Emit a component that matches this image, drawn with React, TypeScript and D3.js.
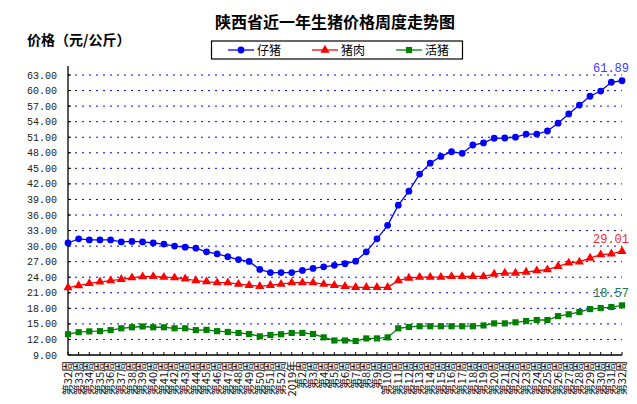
import React from "react";
import * as d3 from "d3";

const weekLabels: string[] = [
  "第32周","第33周","第34周","第35周","第36周","第37周","第38周","第39周","第40周","第41周",
  "第42周","第43周","第44周","第45周","第46周","第47周","第48周","第49周","第50周","第51周",
  "第52周","2019年","第2周","第3周","第4周","第5周","第6周","第7周","第8周","第9周",
  "第10周","第11周","第12周","第13周","第14周","第15周","第16周","第17周","第18周","第19周",
  "第20周","第21周","第22周","第23周","第24周","第25周","第26周","第27周","第28周","第29周",
  "第30周","第31周","第32周",
];

const piglet: number[] = [
  30.6, 31.4, 31.2, 31.2, 31.2, 30.8, 30.9, 30.8, 30.6, 30.4,
  30.0, 29.8, 29.6, 28.9, 28.5, 27.95, 27.4, 27.05, 25.5, 24.9,
  24.9, 24.9, 25.3, 25.7, 26.0, 26.3, 26.6, 27.1, 28.9, 31.4,
  34.0, 37.9, 40.6, 43.9, 46.0, 47.3, 48.2, 47.9, 49.5, 49.9,
  50.8, 50.85, 51.0, 51.6, 51.6, 52.2, 53.7, 55.5, 57.2, 58.9,
  59.9, 61.6, 61.89,
];

const pork: number[] = [
  22.0, 22.4, 22.8, 23.1, 23.35, 23.6, 23.9, 24.1, 24.15, 24.0,
  23.9, 23.7, 23.35, 23.15, 22.95, 22.95, 22.65, 22.45, 22.25, 22.45,
  22.65, 22.95, 22.95, 22.95, 22.65, 22.45, 22.25, 22.05, 22.05, 22.05,
  22.05, 23.35, 23.85, 24.0, 24.0, 24.0, 24.15, 24.15, 24.15, 24.15,
  24.6, 24.8, 24.8, 25.0, 25.25, 25.45, 26.1, 26.75, 26.95, 27.7,
  28.35, 28.5, 29.01,
];

const hog: number[] = [
  13.0, 13.4, 13.55, 13.6, 13.8, 14.15, 14.35, 14.5, 14.35, 14.35,
  14.15, 14.15, 13.8, 13.85, 13.6, 13.45, 13.25, 13.05, 12.6, 12.85,
  13.0, 13.25, 13.25, 13.05, 12.4, 11.8, 11.8, 11.7, 12.2, 12.2,
  12.4, 14.15, 14.4, 14.55, 14.55, 14.55, 14.55, 14.55, 14.55, 14.7,
  15.1, 15.1, 15.3, 15.55, 15.75, 15.75, 16.5, 16.85, 17.3, 17.85,
  18.05, 18.25, 18.57,
];

const yTickValues: number[] = [9, 12, 15, 18, 21, 24, 27, 30, 33, 36, 39, 42, 45, 48, 51, 54, 57, 60, 63];

const seriesNames: string[] = ["仔猪", "猪肉", "活猪"];

const title = "陕西省近一年生猪价格周度走势图";
const yTitle = "价格（元/公斤）";

export default function App() {
  const W = 637;
  const H = 404;
  const left = 68;
  const right = 622;
  const top = 66;
  const bottom = 355;

  const idx = weekLabels.map((_, i) => i);
  const x = d3.scalePoint<number>().domain(idx).range([left, right]);
  const y = d3.scaleLinear().domain([9, 63]).range([bottom, 75]);

  const lineGen = d3
    .line<number>()
    .x((_, i) => x(i) as number)
    .y((d) => y(d));

  const series = [
    { name: seriesNames[0], data: piglet, color: "#0000ff", labelColor: "#3a3aff", shape: d3.symbolCircle, size: 36 },
    { name: seriesNames[1], data: pork, color: "#ff0000", labelColor: "#f02a2a", shape: d3.symbolTriangle, size: 36 },
    { name: seriesNames[2], data: hog, color: "#008000", labelColor: "#1a7a4a", shape: d3.symbolSquare, size: 38 },
  ];

  const legendX = [228, 312, 396];

  return (
    <svg
      width={W}
      height={H}
      style={{ position: "absolute", left: 0, top: 0, background: "#fff" }}
      fontFamily="'Noto Sans CJK SC', sans-serif"
    >
      <rect x={0} y={0} width={W} height={H} fill="#fff" />
      <text x={335} y={28} textAnchor="middle" fontSize={16} fontWeight="bold" fill="#000">
        {title}
      </text>
      <text x={27} y={45} fontSize={14} fontWeight="bold" fill="#000">
        {yTitle}
      </text>

      <rect x={211.5} y={41} width={251} height={18} fill="#fff" stroke="#000" strokeWidth={1.2} />
      {series.map((s, k) => {
        const lx = legendX[k];
        const path = d3.symbol().type(s.shape).size(s.size)() as string;
        return (
          <g key={s.name}>
            <line x1={lx} x2={lx + 26} y1={50} y2={50} stroke={s.color} strokeWidth={1.3} />
            <path d={path} transform={`translate(${lx + 13},${50})`} fill={s.color} />
            <text x={lx + 29} y={54.5} fontSize={12} fill="#000">
              {s.name}
            </text>
          </g>
        );
      })}

      {yTickValues
        .filter((v) => v > 9)
        .map((v) => (
          <line
            key={"g" + v}
            x1={left}
            x2={right}
            y1={y(v)}
            y2={y(v)}
            stroke="#0000ff"
            strokeWidth={1}
            strokeDasharray="2,5"
          />
        ))}

      <line x1={left} x2={left} y1={top} y2={bottom} stroke="#000" strokeWidth={1.3} />
      {yTickValues.map((v) => (
        <g key={"yt" + v}>
          <line x1={left} x2={left + 3} y1={y(v)} y2={y(v)} stroke="#000" strokeWidth={1} />
          <text
            x={57}
            y={y(v)}
            dy="0.35em"
            textAnchor="end"
            fontSize={10}
            fontFamily="'Liberation Mono', monospace"
            fill="#222"
          >
            {v.toFixed(2)}
          </text>
        </g>
      ))}

      <line x1={left} x2={right} y1={bottom} y2={bottom} stroke="#000" strokeWidth={1.3} />
      {idx.map((i) => (
        <line key={"xt" + i} x1={x(i)} x2={x(i)} y1={bottom} y2={bottom - 3} stroke="#000" strokeWidth={1} />
      ))}
      {weekLabels.map((lab, i) => (
        <text
          key={"xl" + i}
          transform={`translate(${x(i)},${361}) rotate(-90)`}
          dy="0.35em"
          textAnchor="end"
          fontSize={11}
          fill="#111"
        >
          {lab}
        </text>
      ))}

      {series.map((s) => {
        const path = d3.symbol().type(s.shape).size(s.size)() as string;
        const last = s.data[s.data.length - 1];
        return (
          <g key={"s" + s.name}>
            <path d={lineGen(s.data) as string} fill="none" stroke={s.color} strokeWidth={1.3} />
            {s.data.map((d, i) => (
              <path key={i} d={path} transform={`translate(${x(i)},${y(d)})`} fill={s.color} />
            ))}
            <text
              x={629}
              y={y(last) - 8.5}
              textAnchor="end"
              fontSize={12}
              fontFamily="'Liberation Mono', monospace"
              fill={s.labelColor}
            >
              {last.toFixed(2)}
            </text>
          </g>
        );
      })}
    </svg>
  );
}
